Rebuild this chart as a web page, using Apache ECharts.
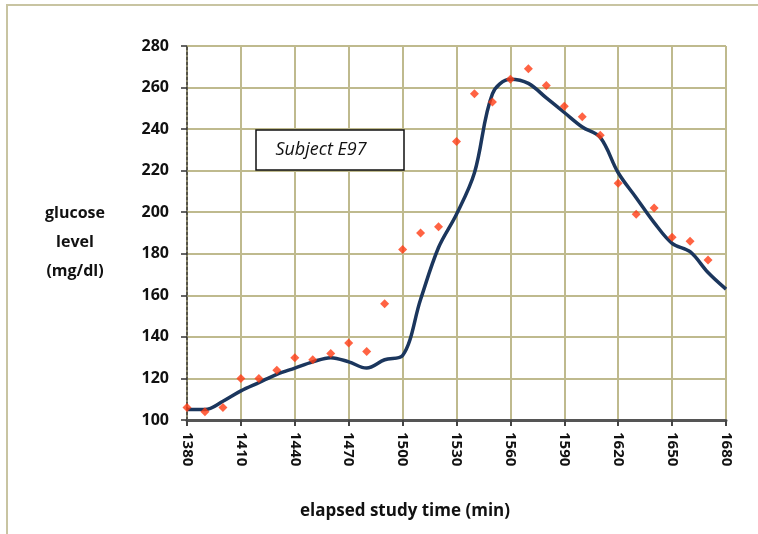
<!DOCTYPE html>
<html>
<head>
<meta charset="utf-8">
<script src="https://cdn.jsdelivr.net/npm/echarts@6/dist/echarts.min.js"></script>
<style>html,body{margin:0;padding:0;background:#fff}#c{width:758px;height:534px}</style>
</head>
<body>
<div id="c"></div>
<script>
// measured glucose points (minutes, mg/dl)
var pointTimes = [1380,1390,1400,1410,1420,1430,1440,1450,1460,1470,1480,1490,1500,1510,1520,1530,1540,1550,1560,1570,1580,1590,1600,1610,1620,1630,1640,1650,1660,1670];
var pointValues = [106,104,106,120,120,124,130,129,132,137,133,156,182,190,193,234,257,253,264,269,261,251,246,237,214,199,202,188,186,177];
// smoothed curve
var curveTimes = [1380,1390,1400,1410,1420,1430,1440,1450,1460,1470,1480,1490,1500,1510,1520,1530,1540,1550,1560,1570,1580,1590,1600,1610,1620,1630,1640,1650,1660,1670,1680];
var curveValues = [105,105,109,114,118,122,125,128,130,128,125,129,131,158,183,199,219,257,264,262,255,248,241,236,219,207,195,185,181,171,163];
var xTicks = {min:1380, max:1680, step:30};
var yTicks = {min:100, max:280, step:20};

var chart = echarts.init(document.getElementById('c'), null, {renderer:'canvas'});
var gridColor = '#BFBA8E';
var font = '"Open Sans", Lato, sans-serif';
chart.setOption({
  animation:false,
  backgroundColor:'#fff',
  grid:{left:187, right:32, top:46, bottom:114, containLabel:false},
  xAxis:{
    type:'value', min:xTicks.min, max:xTicks.max, interval:xTicks.step,
    axisLine:{show:true, onZero:false, lineStyle:{color:'#555', width:3}},
    axisTick:{show:true, length:6, lineStyle:{color:'#444', width:2}},
    axisLabel:{rotate:-90, margin:12, color:'#111', fontSize:15, fontWeight:'bold', fontFamily:font,
      formatter:function(v){return String(v);}},
    splitLine:{show:true, lineStyle:{color:gridColor, width:2}}
  },
  yAxis:{
    type:'value', min:yTicks.min, max:yTicks.max, interval:yTicks.step,
    axisLine:{show:true, onZero:false, lineStyle:{color:'#333', width:1.5, type:[3,2]}},
    axisTick:{show:true, length:6, lineStyle:{color:'#333', width:1.5}},
    axisLabel:{margin:18, color:'#111', fontSize:16, fontWeight:'bold', fontFamily:font,
      formatter:function(v){return String(v);}},
    splitLine:{show:true, lineStyle:{color:gridColor, width:2}}
  },
  series:[
    {type:'line', data:curveTimes.map(function(t,i){return [t,curveValues[i]];}),
     smooth:0.35, showSymbol:false, lineStyle:{color:'#1B365D', width:3.5}, z:2},
    {type:'scatter', data:pointTimes.map(function(t,i){return [t,pointValues[i]];}),
     symbol:'diamond', symbolSize:9, itemStyle:{color:'#FF3C14'}, z:3}
  ],
  graphic:[
    {type:'rect', shape:{x:7, y:5, width:800, height:600}, style:{fill:'none', stroke:'#C8C4A2', lineWidth:2}, z:-1, silent:true},
    {type:'text', x:75, y:199, style:{text:'glucose\nlevel\n(mg/dl)', align:'center', font:'bold 16px '+font, fill:'#111', lineHeight:29}, z:10},
    {type:'rect', shape:{x:256, y:130, width:148, height:40}, style:{fill:'#fff', stroke:'#111', lineWidth:1.5}, z:10},
    {type:'text', x:321, y:150, style:{text:'Subject E97', align:'center', verticalAlign:'middle', font:'italic 18px '+font, fill:'#111'}, z:11},
    {type:'text', x:405, y:511, style:{text:'elapsed study time (min)', align:'center', verticalAlign:'middle', font:'bold 17px '+font, fill:'#111'}, z:10}
  ]
});
</script>
</body>
</html>
